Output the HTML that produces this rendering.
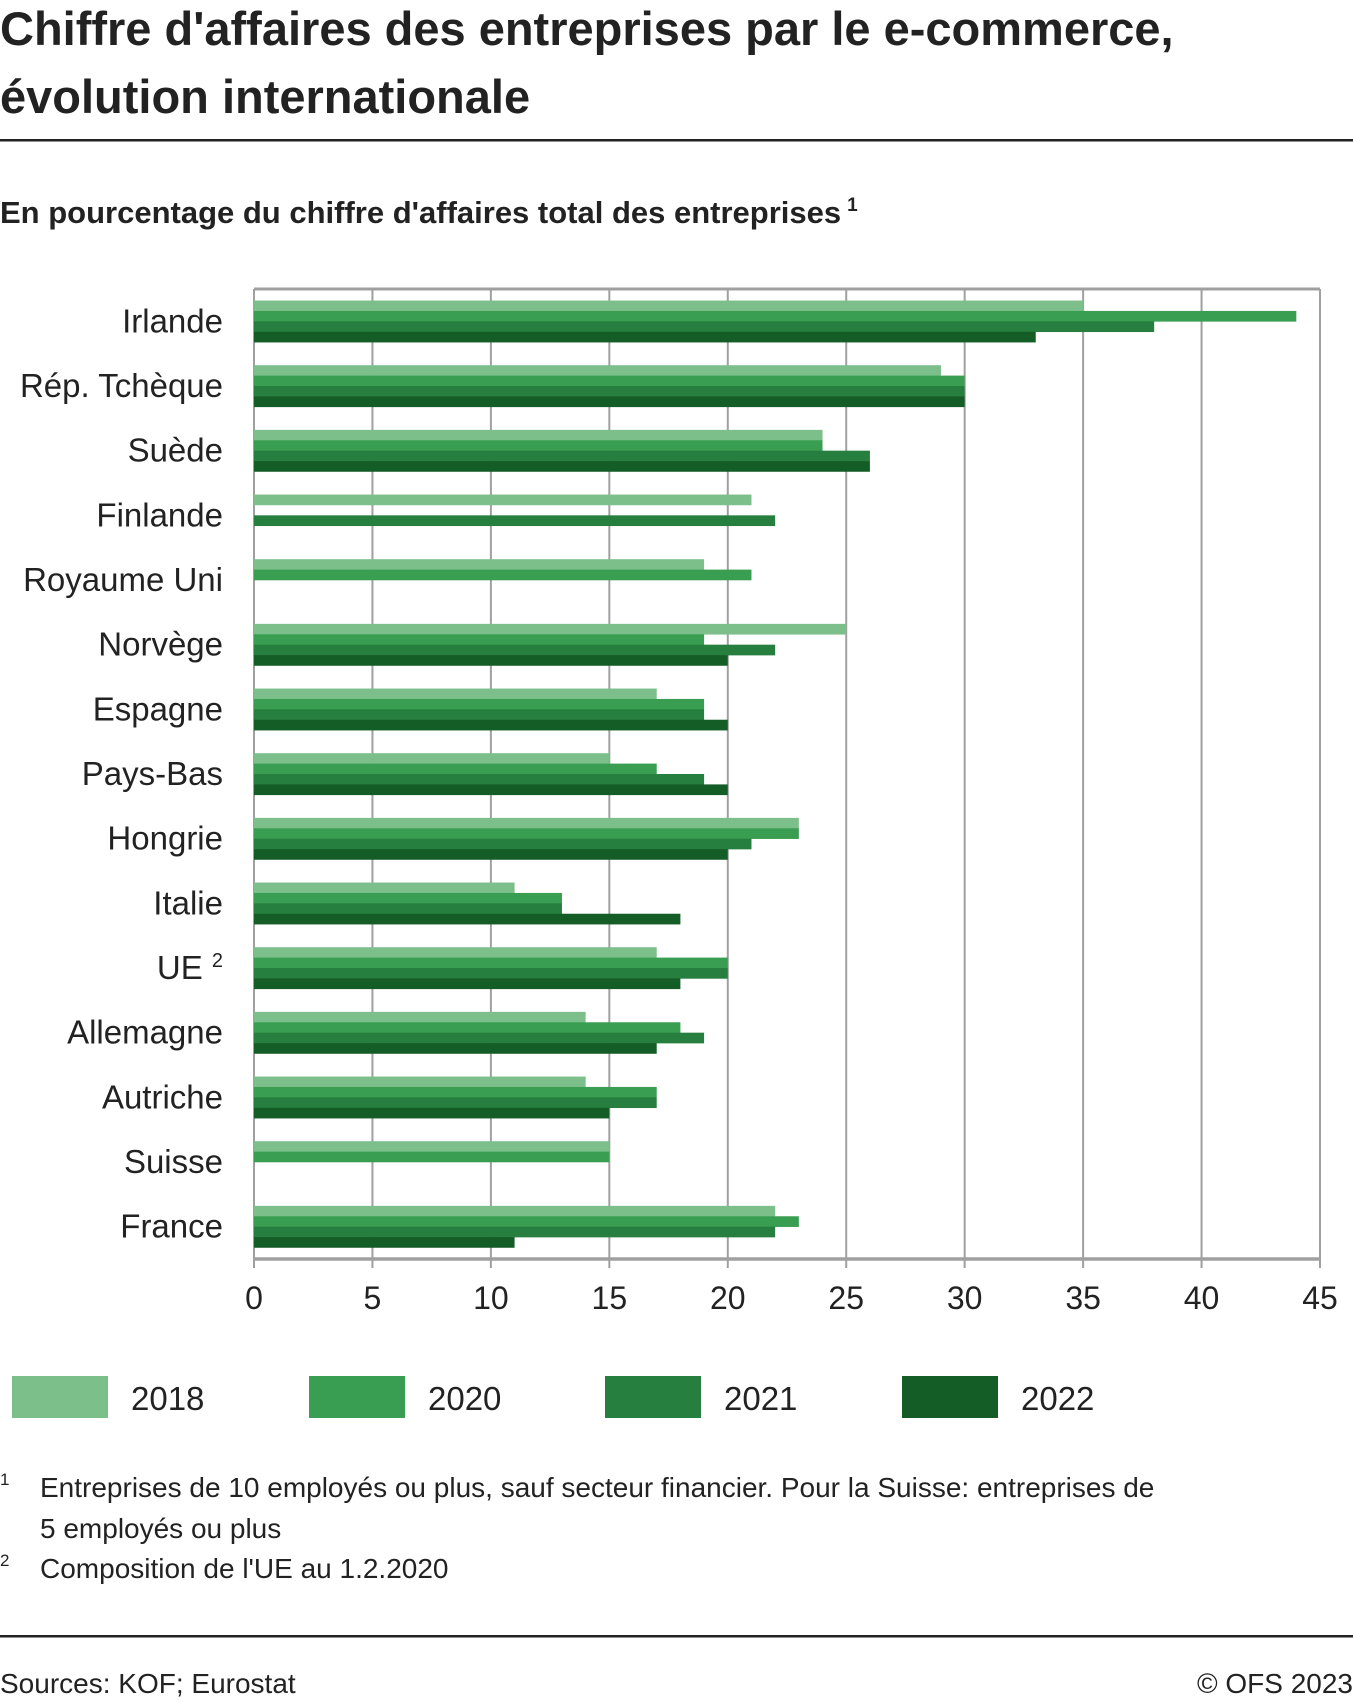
<!DOCTYPE html>
<html><head><meta charset="utf-8"><style>
body{margin:0;background:#fff;font-family:"Liberation Sans",sans-serif;color:#222;}
svg{display:block}
</style></head><body>
<svg id="chart" width="1353" height="1702" viewBox="0 0 1353 1702" xmlns="http://www.w3.org/2000/svg" font-family="Liberation Sans, sans-serif">
<text x="0" y="45" font-size="47" font-weight="bold" fill="#222">Chiffre d'affaires des entreprises par le e-commerce,</text>
<text x="0" y="113" font-size="47" font-weight="bold" fill="#222">évolution internationale</text>
<rect x="0" y="139" width="1353" height="2.5" fill="#222"/>
<text x="0" y="223" font-size="31" font-weight="bold" fill="#222">En pourcentage du chiffre d'affaires total des entreprises<tspan font-size="19" dy="-12" dx="6">1</tspan></text>
<g id="plot"></g>
<g id="legend"></g>
<g font-size="28" fill="#222">
<text x="0" y="1485" font-size="17">1</text>
<text x="40" y="1497">Entreprises de 10 employés ou plus, sauf secteur financier. Pour la Suisse: entreprises de</text>
<text x="40" y="1538">5 employés ou plus</text>
<text x="0" y="1566" font-size="17">2</text>
<text x="40" y="1578">Composition de l'UE au 1.2.2020</text>
</g>
<rect x="0" y="1635" width="1353" height="2.5" fill="#222"/>
<text x="0" y="1693" font-size="28" fill="#222">Sources: KOF; Eurostat</text>
<text x="1353" y="1693" font-size="28" fill="#222" text-anchor="end">© OFS 2023</text>
</svg>
<script>
const categories=["Irlande","Rép. Tchèque","Suède","Finlande","Royaume Uni","Norvège","Espagne","Pays-Bas","Hongrie","Italie","UE","Allemagne","Autriche","Suisse","France"];
const years=["2018","2020","2021","2022"];
const v2018=[35,29,24,21,19,25,17,15,23,11,17,14,14,15,22];
const v2020=[44,30,24,null,21,19,19,17,23,13,20,18,17,15,23];
const v2021=[38,30,26,22,null,22,19,19,21,13,20,19,17,null,22];
const v2022=[33,30,26,null,null,20,20,20,20,18,18,17,15,null,11];
const ticks=[0,5,10,15,20,25,30,35,40,45];
const series=[v2018,v2020,v2021,v2022];
const colors=["#7dbf8b","#3a9e52","#267f3e","#155d27"];
const NS="http://www.w3.org/2000/svg";
const L=254,R=1320,T=289,B=1259,xmax=45;
const x=v=>L+(R-L)*v/xmax;
const gh=(B-T)/categories.length, bh=10.4;
const y=i=>T+gh*i+gh/2;
function mk(tag,attrs,parent){const e=document.createElementNS(NS,tag);for(const k in attrs)e.setAttribute(k,attrs[k]);parent.appendChild(e);return e;}
const plot=document.getElementById('plot');
ticks.forEach(t=>{
 const l=mk('line',{x1:x(t),x2:x(t),y1:T,y2:B+9,stroke:'#a0a0a0','stroke-width':2},plot);
 
 
 const tx=mk('text',{x:x(t),y:B+50,'font-size':32,'text-anchor':'middle',fill:'#222'},plot);
 tx.textContent=t;
 
 
});
const plotTop=mk('line',{x1:L,x2:R,y1:T,y2:T,stroke:'#a0a0a0','stroke-width':3},plot);


categories.forEach((c,i)=>{
 const base=y(i)-2*bh;
 series.forEach((s,j)=>{
  if(s[i]==null)return;
  const r=mk('rect',{x:L,y:base+j*bh,width:x(s[i])-L,height:bh+0.3,fill:colors[j]},plot);
  
  
 });
 const tx=mk('text',{x:223,y:y(i)+11,'font-size':33,'text-anchor':'end',fill:'#222'},plot);
 
 
 if(c==="UE"){tx.textContent="UE ";const sp=mk('tspan',{'font-size':20,dy:-12},tx);sp.textContent="2";}
 else tx.textContent=c;
});
const ax=mk('line',{x1:L,x2:R,y1:B,y2:B,stroke:'#a0a0a0','stroke-width':3.5},plot);


const lg=document.getElementById('legend');
const lx=[12,309,605,902];
years.forEach((yr,j)=>{
 const r=mk('rect',{x:lx[j],y:1376,width:96,height:42,fill:colors[j]},lg);
 
 
 const t=mk('text',{x:lx[j]+119,y:1410,'font-size':33,fill:'#222'},lg);
 t.textContent=yr;
 
 
});
</script>
</body></html>
